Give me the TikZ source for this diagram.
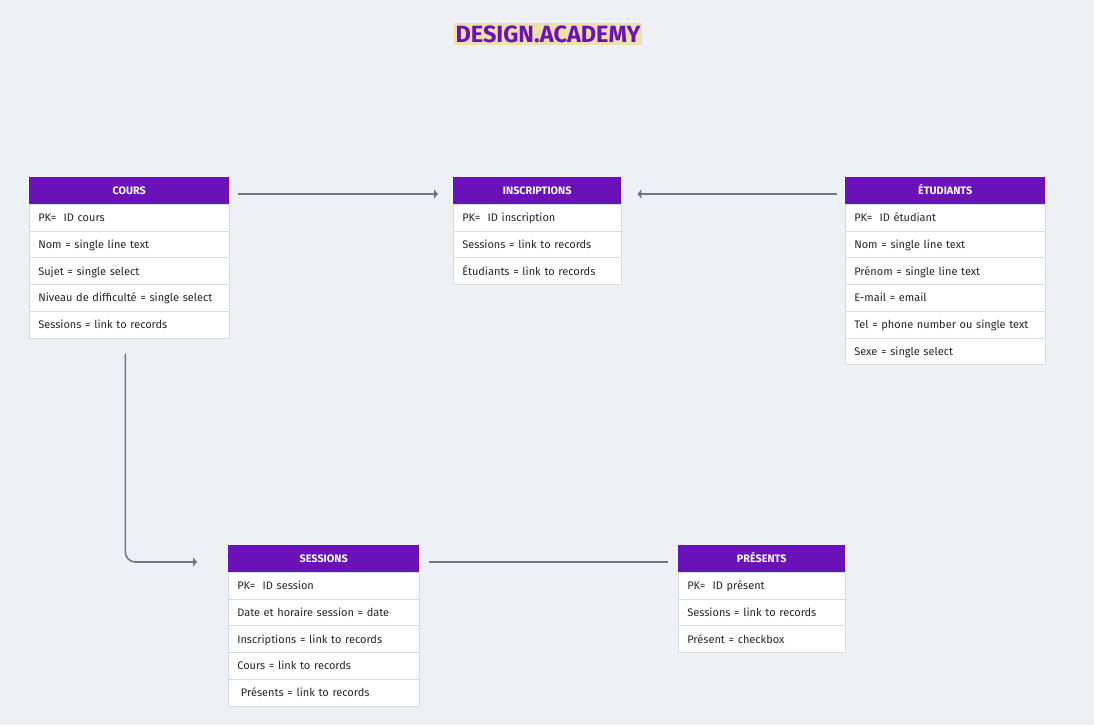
\documentclass[tikz,border=0pt]{standalone}
\usepackage{fontspec}
\setmainfont{Fira Sans}
\usetikzlibrary{arrows.meta}
\definecolor{bg}{HTML}{EDF0F5}
\definecolor{purp}{HTML}{6A12B8}
\definecolor{rowline}{HTML}{D5DCE5}
\definecolor{conn}{HTML}{707784}
\definecolor{hl}{HTML}{EEDFB0}
\tikzset{
  hdr/.style={fill=purp,text=white,font=\bfseries\fontsize{10.8}{12}\selectfont,inner sep=0pt,anchor=north west,minimum height=27pt,text height=7.5pt,text depth=0pt},
  row/.style={fill=white,draw=rowline,line width=0.6pt,text=black!85,font=\fontsize{11}{12}\selectfont,inner sep=0pt,anchor=north west,minimum height=26.7pt,text height=8pt,text depth=0pt,align=left},
  conn/.style={draw=conn,line width=1.6pt},
  tip/.style={-{Triangle[length=4pt,width=9pt]}}
}
\newcommand{\enttab}[6]{% name, x, y, w, title, rows
  \node[hdr,minimum width=#4pt] (#1) at (#2pt,-#3pt) {#5};
  \foreach \t [count=\i] in {#6} {
    \node[row,minimum width=#4pt,text width=#4pt-18pt] (#1-\i) at ([yshift=-26.7*(\i-1)*1pt-27pt]#1.north west) {\t};
  }
}
\begin{document}
\begin{tikzpicture}[x=1pt,y=1pt]
\fill[bg] (0,0) rectangle (1094,-725);
\useasboundingbox (0,0) rectangle (1094,-725);
\node[fill=hl,text=purp,font=\bfseries\fontsize{23.5}{26}\selectfont,inner xsep=2pt,inner ysep=2pt] (title) at (548,-34) {DESIGN.ACADEMY};
\enttab{cours}{29}{177}{200}{COURS}{{PK=\ \ ID cours},{Nom = single line text},{Sujet = single select},{Niveau de difficulté = single select},{Sessions = link to records}}
\enttab{insc}{453}{177}{168}{INSCRIPTIONS}{{PK=\ \ ID inscription},{Sessions = link to records},{Étudiants = link to records}}
\enttab{etud}{845}{177}{200}{ÉTUDIANTS}{{PK=\ \ ID étudiant},{Nom = single line text},{Prénom = single line text},{E-mail = email},{Tel = phone number ou single text},{Sexe = single select}}
\enttab{sess}{228}{545}{191}{SESSIONS}{{PK=\ \ ID session},{Date et horaire session = date},{Inscriptions = link to records},{Cours = link to records},{\ Présents = link to records}}
\enttab{pres}{678}{545}{167}{PRÉSENTS}{{PK=\ \ ID présent},{Sessions = link to records},{Présent = checkbox}}
\coordinate (c1a) at ([xshift=9pt,yshift=-17pt]cours.north east);
\coordinate (c1b) at ([xshift=-15pt,yshift=-17pt]insc.north west);
\draw[conn,tip] (c1a) -- (c1b);
\coordinate (c2a) at ([xshift=-8pt,yshift=-17pt]etud.north west);
\coordinate (c2b) at ([xshift=16pt,yshift=-17pt]insc.north east);
\draw[conn,tip] (c2a) -- (c2b);
\coordinate (c3a) at ([xshift=-4pt,yshift=-16pt]cours-5.south);
\coordinate (c3b) at ([xshift=-31pt,yshift=-17pt]sess.north west);
\draw[conn,tip,rounded corners=10pt] (c3a) |- (c3b);
\coordinate (c4a) at ([xshift=10pt,yshift=-17pt]sess.north east);
\coordinate (c4b) at ([xshift=-10pt,yshift=-17pt]pres.north west);
\draw[conn] (c4a) -- (c4b);
\end{tikzpicture}
\end{document}
